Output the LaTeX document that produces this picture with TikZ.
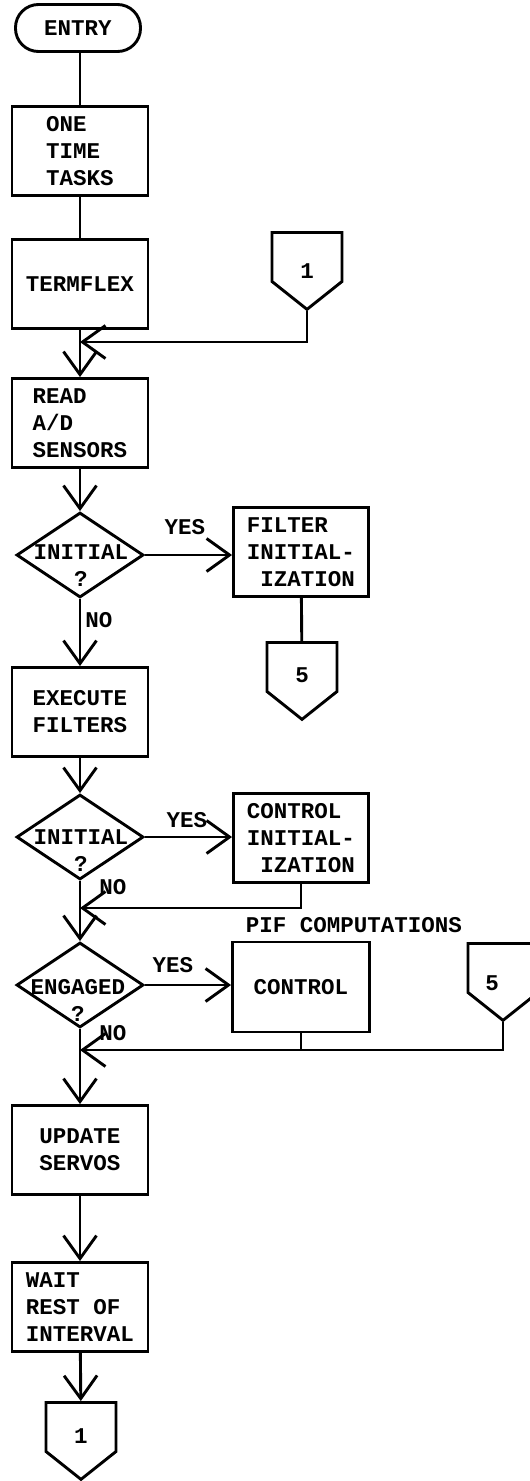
\documentclass[tikz,border=0pt]{standalone}
\usepackage{fontspec}
\setmainfont{Liberation Mono}
\usetikzlibrary{shapes.geometric,shapes.symbols,arrows.meta}

\begin{document}
\begin{tikzpicture}[x=1pt, y=-1pt, line width=2.9pt,
    every node/.style={font=\bfseries\fontsize{22.5}{27}\selectfont},
    box/.style={draw, rectangle, minimum width=136pt, minimum height=89pt, align=left, inner sep=0pt},
    term/.style={draw, rounded corners=23pt, minimum width=125pt, minimum height=47pt, inner sep=0pt},
    test/.style={draw, diamond, minimum width=127pt, minimum height=85pt, inner sep=0pt},
    conn/.style={draw, signal, signal to=south, signal from=nowhere, minimum width=70pt, minimum height=49pt, signal pointer angle=103, inner sep=0pt},
    flow/.style={-{Straight Barb[length=23pt,width=33pt]}},
    lbl/.style={inner sep=0pt, align=center}]
				\useasboundingbox (0,0) rectangle (530,1481);
				% main column
				\node[term] (entry) at (78,28) {ENTRY};
				\node[box] (once) at (80,151) {ONE\\TIME\\TASKS};
				\node[box] (tflex) at (80,284) {TERMFLEX};
				\node[box] (read) at (80,423) {READ\\A/D\\SENSORS};
				\node[test] (init1) at (80,555) {};
				\node[box] (exec) at (80,712) {EXECUTE\\FILTERS};
				\node[test] (init2) at (80,837) {};
				\node[test] (engd) at (80,985) {};
				\node[box] (upd) at (80,1150) {UPDATE\\SERVOS};
				\node[box] (wait) at (80,1307) {WAIT\\REST OF\\INTERVAL};
				\node[conn] (c1bot) at (81,1427) {};
				% side column
				\node[conn] (c1top) at (307,257) {};
				\node[box, minimum width=135pt] (finit) at (301,552) {FILTER\\INITIAL-\\\phantom{I}IZATION};
				\node[conn] (c5a) at (302,667) {};
				\node[box, minimum width=135pt] (cinit) at (301,838) {CONTROL\\INITIAL-\\\phantom{I}IZATION};
				\node[box, minimum width=137pt, minimum height=90pt] (ctrl) at (301,987) {CONTROL};
				\node[conn] (c5b) at (503,968) {};
				\coordinate (m1) at (80,342);
				\coordinate (m2) at (80,908);
				\coordinate (m3) at (80,1050);
				% texts
				\node[lbl] (c1bott) at (81,1436) {1};
				\node[lbl] (c1topt) at (307,271) {1};
				\node[lbl] (c5at) at (302,675) {5};
				\node[lbl] (c5bt) at (492,983) {5};
				\node[lbl] (init1t) at (81,566) {INITIAL\\?};
				\node[lbl] (init2t) at (81,851) {INITIAL\\?};
				\node[lbl] (engdt) at (78,1000) {ENGAGED\\?};
				\node[lbl] (yes1) at (185,527) {YES};
				\node[lbl] (no1) at (99,620) {NO};
				\node[lbl] (yes2) at (187,820) {YES};
				\node[lbl] (no2) at (113,887) {NO};
				\node[lbl] (yes3) at (173,965) {YES};
				\node[lbl] (no3) at (113,1033) {NO};
				\node[lbl] (pif) at (354,925) {PIF COMPUTATIONS};
				% flow lines
				\draw (once.north |- entry.south) -- (once);
				\draw (once) -- (tflex);
				\draw[flow] (tflex) -- (read);
				\draw[flow] (c1top.south) |- (m1);
				\draw[flow] (read) -- (init1);
				\draw[flow] (init1.east) -- (init1.east -| finit.west);
				\draw (finit) -- (c5a);
				\draw[flow] (init1) -- (exec);
				\draw[flow] (exec) -- (init2);
				\draw[flow] (init2.east) -- (init2.east -| cinit.west);
				\draw[flow] (cinit.south) |- (m2);
				\draw[flow] (init2) -- (engd);
				\draw[flow] (engd.east) -- (engd.east -| ctrl.west);
				\draw (ctrl.south) -- (ctrl.south |- m3);
				\draw[flow] (c5b.south) |- (m3);
				\draw[flow] (engd) -- (upd);
				\draw[flow] (upd) -- (wait);
				\draw[flow] (wait) -- (c1bot);
\end{tikzpicture}
\end{document}
